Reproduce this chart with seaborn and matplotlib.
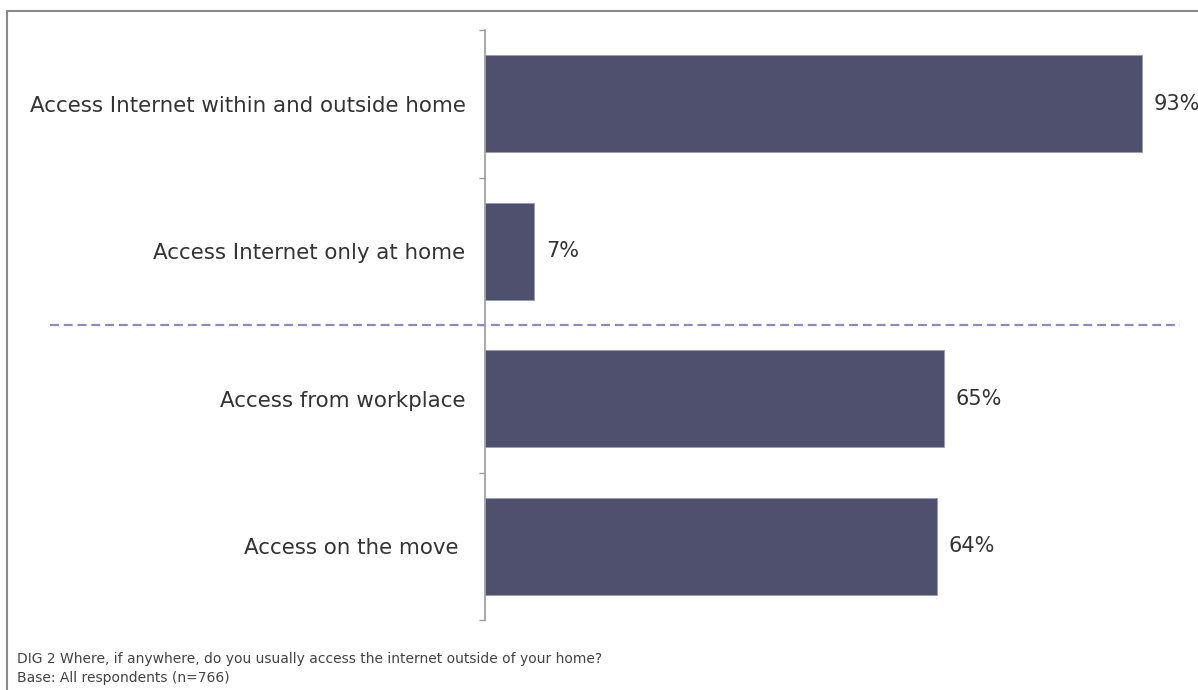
import matplotlib
matplotlib.use("Agg")
import matplotlib.pyplot as plt
import seaborn as sns
import pandas as pd
from matplotlib.lines import Line2D

# Survey answers and shares of respondents (%)
categories = [
    "Access Internet within and outside home",
    "Access Internet only at home",
    "Access from workplace",
    "Access on the move ",
]
shares = [93, 7, 65, 64]
value_labels = ["93%", "7%", "65%", "64%"]

footnote_lines = [
    "DIG 2 Where, if anywhere, do you usually access the internet outside of your home?",
    "Base: All respondents (n=766)",
]

bar_color = "#4f4f6e"
text_color = "#333333"

sns.set_theme(style="white")
plt.rcParams["font.family"] = ["DejaVu Sans"]

df = pd.DataFrame({"category": categories, "share": shares})

fig = plt.figure(figsize=(11.98, 6.90), dpi=100)
ax = fig.add_axes([485 / 1198, 1 - 620 / 690, 706.5 / 1198, 590 / 690])

sns.barplot(data=df, x="share", y="category", orient="h", color=bar_color,
            width=0.66, saturation=1, edgecolor="#9a9ab4", linewidth=0.6, ax=ax)

ax.set_xlim(0, 100)
ax.set_ylim(len(categories) - 0.5, -0.5)
ax.set_xlabel("")
ax.set_ylabel("")
ax.set_xticks([])

for side in ("top", "right", "bottom"):
    ax.spines[side].set_visible(False)
ax.spines["left"].set_color("#9a9aa8")
ax.spines["left"].set_linewidth(1.2)

# tick marks sit on category boundaries, labels centred on bars
ax.set_yticks([i - 0.5 for i in range(len(categories) + 1)], minor=True)
ax.tick_params(axis="y", which="minor", left=True, length=4, width=1.0,
               color="#9a9aa8")
ax.tick_params(axis="y", which="major", left=False, length=0, pad=14,
               labelsize=15.4, labelcolor=text_color)

for i, (v, lab) in enumerate(zip(shares, value_labels)):
    ax.text(v + 1.6, i, lab, va="center", ha="left", fontsize=15,
            color=text_color)

# separator between home-access groups and location groups
ax.axhline(1.5, xmin=-0.616, xmax=0.984, clip_on=False, color="#8c8cbc",
           linewidth=1.6, linestyle=(0, (4, 2.2)))

# frame lines around the slide area
fig.add_artist(Line2D([7 / 1198, 7 / 1198], [0, 1 - 11 / 690],
                      transform=fig.transFigure, color="#8a8a8a", linewidth=1.5))
fig.add_artist(Line2D([7 / 1198, 1], [1 - 11 / 690, 1 - 11 / 690],
                      transform=fig.transFigure, color="#8a8a8a", linewidth=1.5))

fig.text(17 / 1198, 1 - 659 / 690, footnote_lines[0], fontsize=10,
         color="#444444", va="center", ha="left")
fig.text(17 / 1198, 1 - 678 / 690, footnote_lines[1], fontsize=10,
         color="#444444", va="center", ha="left")

fig.savefig("out.png", dpi=100, facecolor="white")
